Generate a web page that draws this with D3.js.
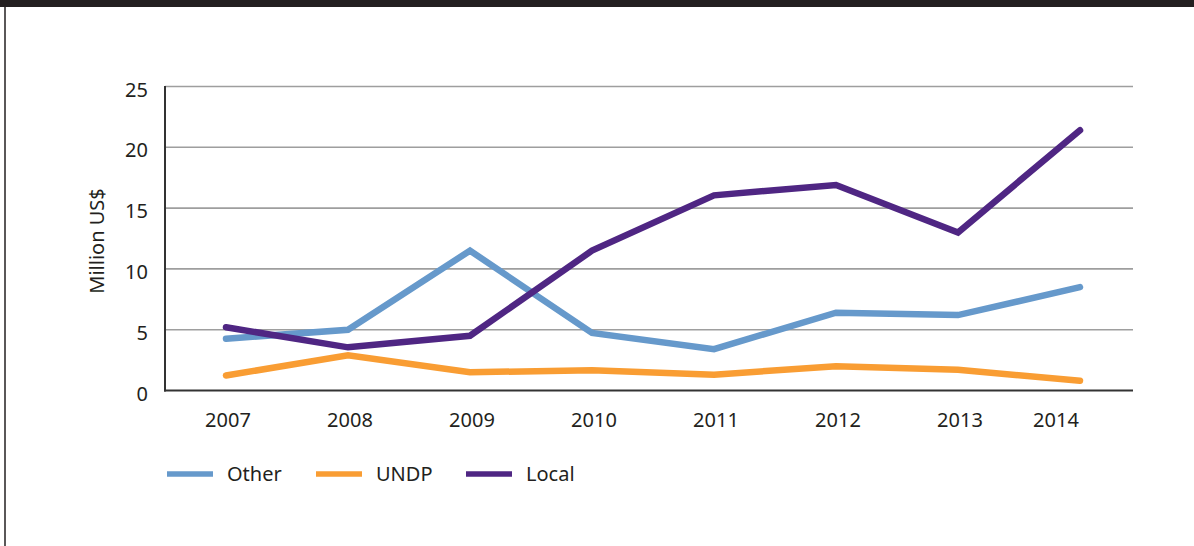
<!DOCTYPE html>
<html><head><meta charset="utf-8">
<script src="https://cdn.jsdelivr.net/npm/d3@7"></script>
<style>
html,body{margin:0;padding:0;background:#fff;}
svg{display:block;}
text{font-family:"Noto Sans",sans-serif;fill:#231f20;}
</style></head>
<body>
<svg id="chart" width="1194" height="546"></svg>
<script>
const years = ["2007","2008","2009","2010","2011","2012","2013","2014"];
const otherValues = [4.26, 5.0, 11.5, 4.73, 3.4, 6.4, 6.2, 8.5];
const undpValues  = [1.23, 2.9, 1.5, 1.66, 1.3, 2.0, 1.7, 0.8];
const localValues = [5.2, 3.55, 4.5, 11.5, 16.05, 16.9, 13.0, 21.4];
const yTicks = [0, 5, 10, 15, 20, 25];
const seriesNames = ["Other", "UNDP", "Local"];
const seriesColors = ["#6699cb", "#f99d33", "#4f2683"];

const svg = d3.select("#chart");
const plot = {left: 165, right: 1133, top: 86.5, bottom: 390.5};

// frame
svg.append("rect").attr("x",0).attr("y",0).attr("width",1194).attr("height",7).attr("fill","#231f20");
svg.append("line").attr("x1",5).attr("x2",5).attr("y1",7).attr("y2",546).attr("stroke","#231f20").attr("stroke-width",1.5);

const x = d3.scalePoint().domain(years).range([226, 1080]);
const y = d3.scaleLinear().domain([0, 25]).range([plot.bottom, plot.top]);

// gridlines
svg.append("g").selectAll("line").data(yTicks.filter(t => t > 0)).join("line")
  .attr("x1", plot.left).attr("x2", plot.right)
  .attr("y1", d => y(d)).attr("y2", d => y(d))
  .attr("stroke", "#9e9e9e").attr("stroke-width", 1.6);

// y axis labels
svg.append("g").selectAll("text").data(yTicks).join("text")
  .attr("x", 148).attr("y", d => y(d) + 3).attr("dy", "0.35em")
  .attr("text-anchor", "end").attr("font-size", 20)
  .text(d => d);

// axes lines
svg.append("line").attr("x1", plot.left).attr("x2", plot.left).attr("y1", plot.top - 0.5).attr("y2", plot.bottom + 1)
  .attr("stroke", "#333").attr("stroke-width", 2);
svg.append("line").attr("x1", plot.left - 1).attr("x2", plot.right).attr("y1", plot.bottom).attr("y2", plot.bottom)
  .attr("stroke", "#333").attr("stroke-width", 2.2);

// x labels
svg.append("g").selectAll("text").data(years).join("text")
  .attr("x", (d, i) => x(d) + (i === years.length - 1 ? -24 : 2))
  .attr("y", 427).attr("text-anchor", "middle").attr("font-size", 20)
  .text(d => d);

// y title
svg.append("text").attr("transform", "translate(104,241) rotate(-90)")
  .attr("text-anchor", "middle").attr("font-size", 20).text("Million US$");

// lines
const seriesData = [otherValues, undpValues, localValues];
const line = d3.line().x((d, i) => x(years[i])).y(d => y(d));
seriesData.forEach((vals, k) => {
  svg.append("path").datum(vals).attr("d", line)
    .attr("fill", "none").attr("stroke", seriesColors[k]).attr("stroke-width", 6.5)
    .attr("stroke-linecap", "round").attr("stroke-linejoin", "miter");
});

// legend
const legendX = [167, 316, 466];
const leg = svg.append("g").selectAll("g").data(seriesNames).join("g")
  .attr("transform", (d, i) => `translate(${legendX[i]},474)`);
leg.append("line").attr("x1", 0).attr("x2", 46).attr("y1", 0).attr("y2", 0)
  .attr("stroke", (d, i) => seriesColors[i]).attr("stroke-width", 5.5);
leg.append("text").attr("x", 60).attr("y", 0).attr("dy", "0.35em").attr("font-size", 20).text(d => d);
</script>
</body></html>
